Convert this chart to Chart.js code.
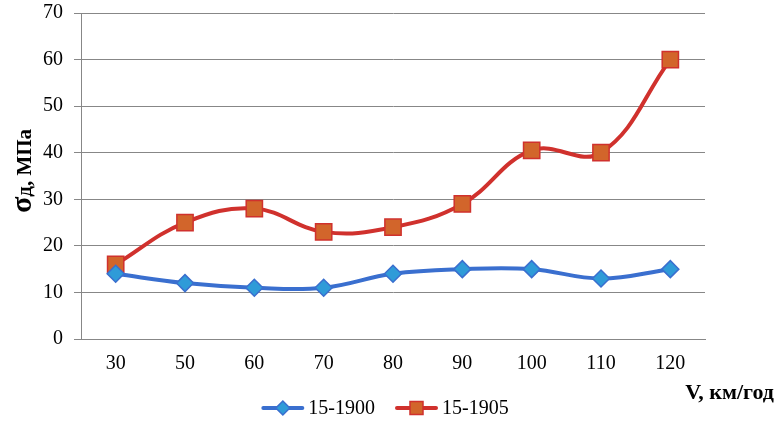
<!DOCTYPE html>
<html>
<head>
<meta charset="utf-8">
<script src="https://cdn.jsdelivr.net/npm/chart.js@4.4.1/dist/chart.umd.min.js"></script>
<style>
  html, body { margin: 0; padding: 0; background: #fff; }
  #wrap { width: 776px; height: 429px; }
</style>
</head>
<body>
<div id="wrap"><canvas id="myChart" width="776" height="429"></canvas></div>
<script>
var speeds = ["30", "50", "60", "70", "80", "90", "100", "110", "120"];
var stress1900 = [14, 12, 11, 11, 14, 15, 15, 13, 15];
var stress1905 = [16, 25, 28, 23, 24, 29, 40.5, 40, 60];
var yTicks = [0, 10, 20, 30, 40, 50, 60, 70];

var blueLine = '#3a6fcf', blueFill = '#2f9bd8';
var redLine = '#d0312d', redFill = '#d2652b';
var gridColor = '#878787';
var serif = "'Liberation Serif', 'Times New Roman', serif";

// draws line + marker sample for the legend
function drawSample(g, x, y, ds) {
    g.strokeStyle = ds.borderColor;
    g.lineWidth = 4;
    g.lineCap = 'round';
    g.beginPath(); g.moveTo(x + 2, y); g.lineTo(x + 41, y); g.stroke();
    g.fillStyle = ds.pointBackgroundColor;
    g.strokeStyle = ds.pointBorderColor;
    g.lineWidth = 1.5;
    g.beginPath();
    var cx = x + 21.5;
    if (ds.pointStyle == 'rectRot') {
        g.moveTo(cx, y - 7); g.lineTo(cx + 7, y); g.lineTo(cx, y + 7); g.lineTo(cx - 7, y); g.closePath();
    } else {
        g.rect(cx - 6.5, y - 6.5, 13, 13);
    }
    g.fill(); g.stroke();
}

var titlesAndLegend = {
    id: 'titlesAndLegend',
    afterDraw: function(chart) {
        var ctx = chart.ctx;
        ctx.save();
        // y title, rotated
        ctx.translate(23, 171);
        ctx.rotate(-Math.PI / 2);
        ctx.fillStyle = '#000';
        ctx.textBaseline = 'alphabetic';
        ctx.font = 'bold 30px ' + serif;
        var sigma = 'σ';
        var part2 = 'д, МПа';
        var w1 = ctx.measureText(sigma).width;
        ctx.font = 'bold 21px ' + serif;
        var w2 = ctx.measureText(part2).width;
        var start = -(w1 + w2) / 2;
        ctx.font = 'bold 30px ' + serif;
        ctx.textAlign = 'left';
        ctx.fillText(sigma, start, 8);
        ctx.font = 'bold 21px ' + serif;
        ctx.fillText(part2, start + w1, 8);
        ctx.restore();

        // x title
        ctx.save();
        ctx.fillStyle = '#000';
        ctx.font = 'bold 22px ' + serif;
        ctx.textAlign = 'right';
        ctx.textBaseline = 'middle';
        ctx.fillText('V, км/год', 774, 393);
        ctx.restore();

        // legend
        ctx.save();
        ctx.font = '20px ' + serif;
        ctx.textBaseline = 'middle';
        ctx.textAlign = 'left';
        var dsets = chart.data.datasets;
        var sampleW = 43, gapText = 4, gapItem = 20;
        var total = 0;
        dsets.forEach(function(ds, i) {
            total += sampleW + gapText + ctx.measureText(ds.label).width;
            if (i < dsets.length - 1) total += gapItem;
        });
        var x = chart.width / 2 - total / 2 - 3;
        var y = 408;
        dsets.forEach(function(ds) {
            drawSample(ctx, x, y, ds);
            x += sampleW + gapText;
            ctx.fillStyle = '#000';
            ctx.fillText(ds.label, x, y + 1);
            x += ctx.measureText(ds.label).width + gapItem;
        });
        ctx.restore();
    }
};

var ctx = document.getElementById("myChart").getContext('2d');
var myChart = new Chart(ctx, {
    type: 'line',
    data: {
        labels: speeds,
        datasets: [{
            label: '15-1900',
            data: stress1900,
            borderColor: blueLine,
            backgroundColor: blueFill,
            borderWidth: 4,
            tension: 0.4,
            pointStyle: 'rectRot',
            pointRadius: 8.5,
            pointBorderWidth: 1.5,
            pointBorderColor: blueLine,
            pointBackgroundColor: blueFill
        }, {
            label: '15-1905',
            data: stress1905,
            borderColor: redLine,
            backgroundColor: redFill,
            borderWidth: 4,
            tension: 0.4,
            pointStyle: 'rect',
            pointRadius: 11.5,
            pointBorderWidth: 1.5,
            pointBorderColor: redLine,
            pointBackgroundColor: redFill
        }]
    },
    options: {
        responsive: false,
        animation: false,
        layout: { padding: { top: 11, right: 71, left: 0, bottom: 40 } },
        plugins: {
            tooltip: { enabled: false },
            legend: { display: false }
        },
        scales: {
            x: {
                offset: true,
                grid: { drawOnChartArea: false, drawTicks: false, tickLength: 0, color: gridColor, offset: true },
                border: { color: gridColor, width: 1 },
                ticks: { color: '#000', padding: 13, font: { family: serif, size: 20 } },
                afterFit: function(scale) { scale.height = 50; scale.paddingLeft = 0; scale.paddingRight = 0; }
            },
            y: {
                min: 0,
                max: 70,
                afterBuildTicks: function(scale) {
                    scale.ticks = yTicks.map(function(v) { return { value: v }; });
                },
                grid: { color: gridColor, tickLength: 7 },
                border: { color: gridColor, width: 1 },
                ticks: { color: '#000', padding: 11, font: { family: serif, size: 20 } },
                afterFit: function(scale) { scale.width = 81; scale.paddingTop = 0; scale.paddingBottom = 0; }
            }
        }
    },
    plugins: [titlesAndLegend]
});
</script>
</body>
</html>
